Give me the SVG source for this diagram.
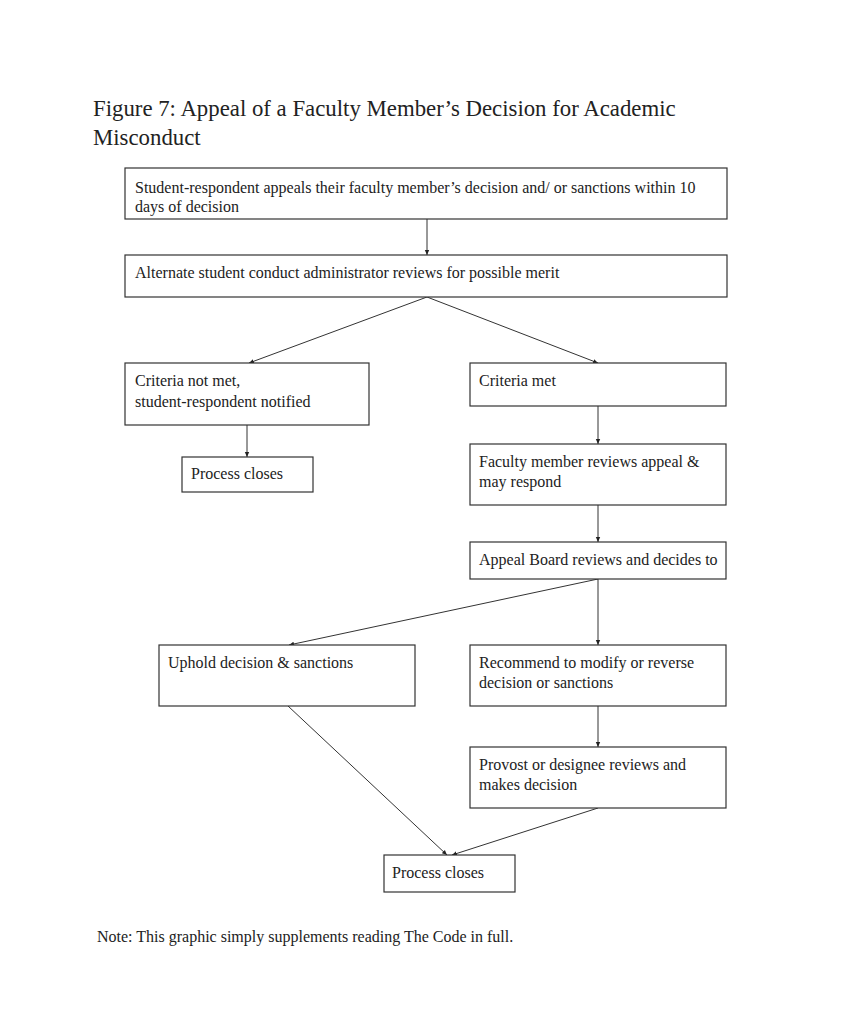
<svg xmlns="http://www.w3.org/2000/svg" width="853" height="1024" viewBox="0 0 853 1024">
<defs>
<marker id="ah" markerWidth="6" markerHeight="6" refX="5" refY="3" orient="auto" markerUnits="userSpaceOnUse">
<path d="M0,0.8 L5,3 L0,5.2 Z" fill="#222"/>
</marker>
<style>
.box{fill:#fff;stroke:#333;stroke-width:1.2}
.t{font-family:"Liberation Serif","Times New Roman",serif;font-size:16px;fill:#222}
.title{font-family:"Liberation Serif","Times New Roman",serif;font-size:22.8px;fill:#222}
.c{fill:none;stroke:#333;stroke-width:1}
</style>
</defs>
<rect width="853" height="1024" fill="#fff"/>
<text class="title" x="93" y="116">Figure 7: Appeal of a Faculty Member’s Decision for Academic</text>
<text class="title" x="93" y="145">Misconduct</text>
<g id="connectors">
<line class="c" x1="427" y1="219" x2="427" y2="255" marker-end="url(#ah)"/>
<line class="c" x1="427" y1="297" x2="249" y2="363" marker-end="url(#ah)"/>
<line class="c" x1="427" y1="297" x2="598" y2="363" marker-end="url(#ah)"/>
<line class="c" x1="247" y1="425" x2="247" y2="457" marker-end="url(#ah)"/>
<line class="c" x1="598" y1="406" x2="598" y2="444" marker-end="url(#ah)"/>
<line class="c" x1="598" y1="505" x2="598" y2="542" marker-end="url(#ah)"/>
<line class="c" x1="598" y1="579" x2="289" y2="645" marker-end="url(#ah)"/>
<line class="c" x1="598" y1="579" x2="598" y2="645" marker-end="url(#ah)"/>
<line class="c" x1="598" y1="706" x2="598" y2="747" marker-end="url(#ah)"/>
<line class="c" x1="288" y1="706" x2="447" y2="855" marker-end="url(#ah)"/>
<line class="c" x1="598" y1="808" x2="452" y2="855" marker-end="url(#ah)"/>
</g>
<g id="n1"><rect class="box" x="125" y="168" width="602" height="51"/>
<text class="t" x="135" y="193">Student-respondent appeals their faculty member’s decision and/ or sanctions within 10</text>
<text class="t" x="135" y="212">days of decision</text></g>
<g id="n2"><rect class="box" x="125" y="255" width="602" height="42"/>
<text class="t" x="135" y="278">Alternate student conduct administrator reviews for possible merit</text></g>
<g id="n3"><rect class="box" x="125" y="363" width="244" height="62"/>
<text class="t" x="135" y="386">Criteria not met,</text>
<text class="t" x="135" y="407">student-respondent notified</text></g>
<g id="n4"><rect class="box" x="470" y="363" width="256" height="43"/>
<text class="t" x="479" y="386">Criteria met</text></g>
<g id="n5"><rect class="box" x="182" y="457" width="131" height="35"/>
<text class="t" x="191" y="479">Process closes</text></g>
<g id="n6"><rect class="box" x="470" y="444" width="256" height="61"/>
<text class="t" x="479" y="467">Faculty member reviews appeal &amp;</text>
<text class="t" x="479" y="487">may respond</text></g>
<g id="n7"><rect class="box" x="470" y="542" width="256" height="37"/>
<text class="t" x="479" y="565">Appeal Board reviews and decides to</text></g>
<g id="n8"><rect class="box" x="159" y="645" width="256" height="61"/>
<text class="t" x="168" y="668">Uphold decision &amp; sanctions</text></g>
<g id="n9"><rect class="box" x="470" y="645" width="256" height="61"/>
<text class="t" x="479" y="668">Recommend to modify or reverse</text>
<text class="t" x="479" y="688">decision or sanctions</text></g>
<g id="n10"><rect class="box" x="470" y="747" width="256" height="61"/>
<text class="t" x="479" y="770">Provost or designee reviews and</text>
<text class="t" x="479" y="790">makes decision</text></g>
<g id="n11"><rect class="box" x="384" y="855" width="131" height="37"/>
<text class="t" x="392" y="878">Process closes</text></g>
<text class="t" x="97" y="942">Note: This graphic simply supplements reading The Code in full.</text>
</svg>
